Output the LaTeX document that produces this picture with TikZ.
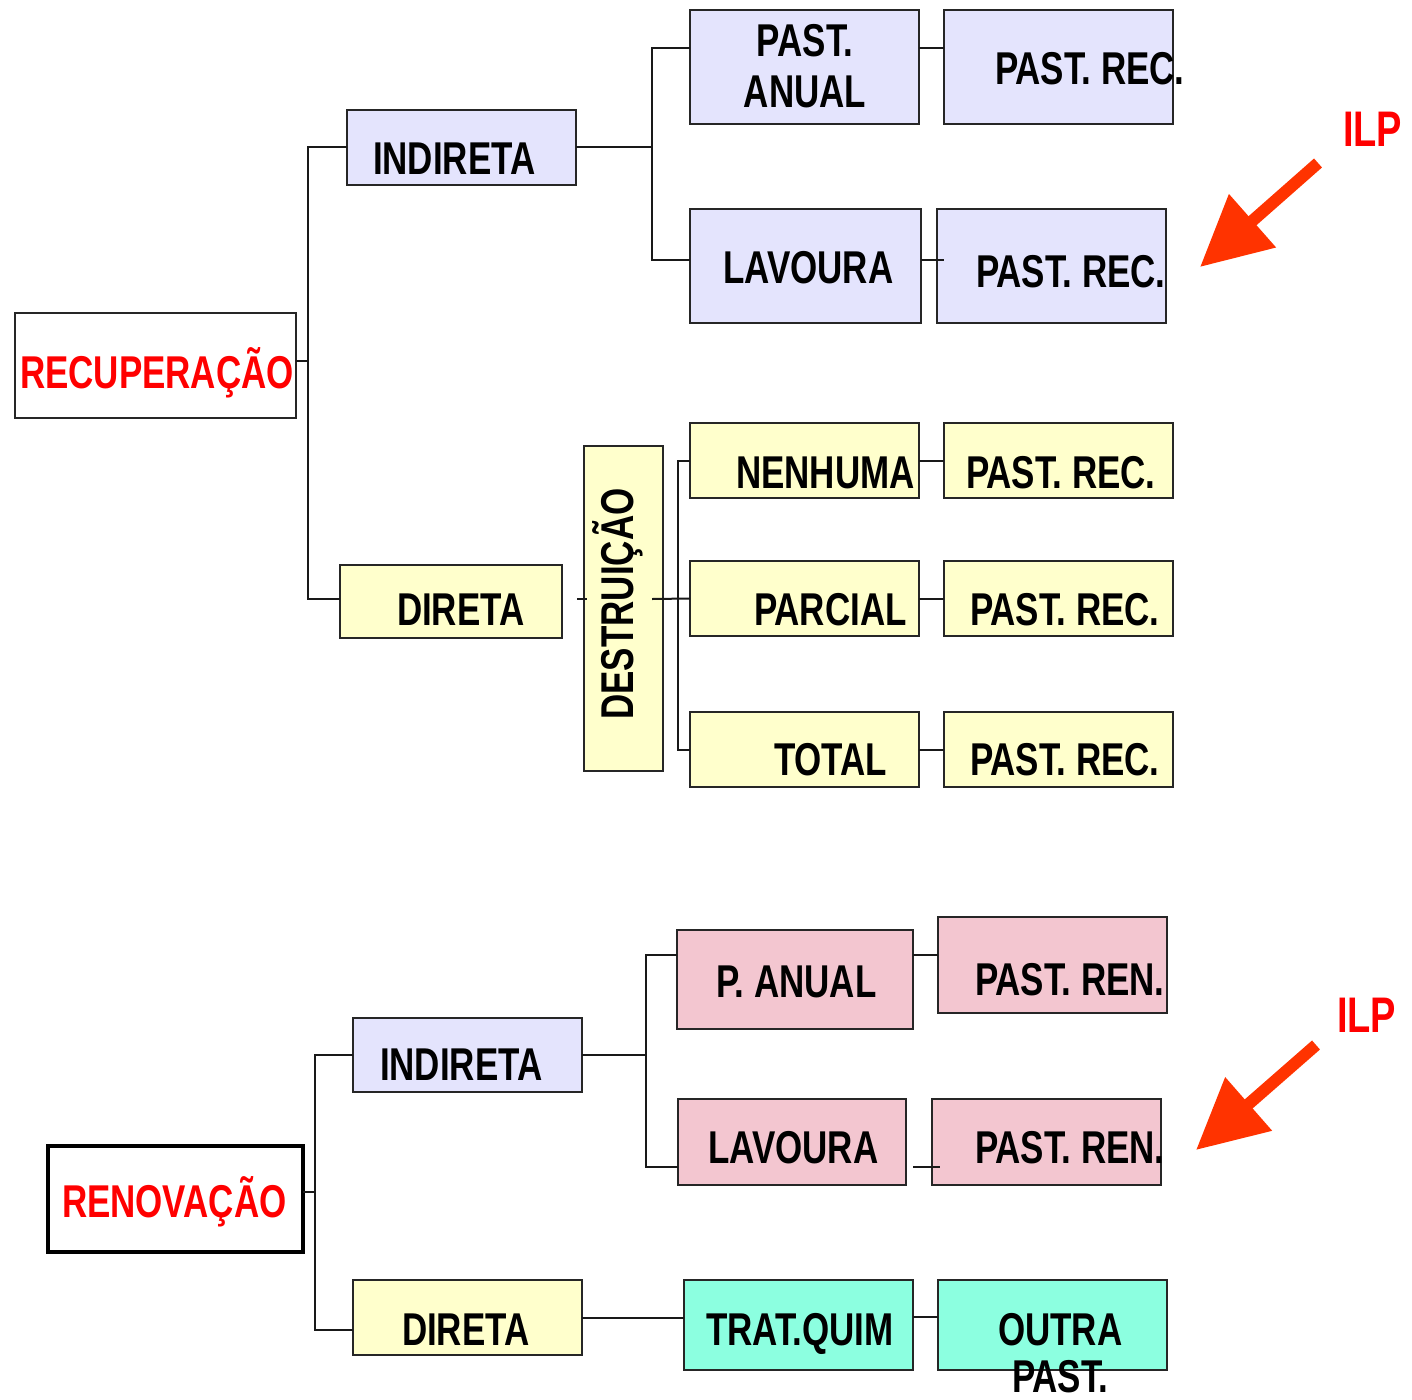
\documentclass[tikz,border=0pt]{standalone}
\usepackage{fontspec}
\setmainfont{Liberation Sans}[FakeStretch=0.76]
\usetikzlibrary{arrows.meta,calc}
\definecolor{lav}{HTML}{E4E4FD}
\definecolor{yel}{HTML}{FFFFCC}
\definecolor{pnk}{HTML}{F3C6D0}
\definecolor{cyn}{HTML}{8CFFE0}
\definecolor{arrowred}{HTML}{FF3300}
\begin{document}
\begin{tikzpicture}[x=1pt,y=-1pt,
  box/.style={draw=black!85, line width=2pt, inner sep=0pt, outer sep=0pt},
  txt/.style={inner sep=0pt, outer sep=0pt, anchor=base west, font=\fontsize{46}{51}\selectfont\bfseries},
  redtxt/.style={txt, text=red},
  conn/.style={line width=2pt, draw=black!90},
  ilparrow/.style={line width=12pt, draw=arrowred, -{Triangle[length=70pt,width=68pt,fill=arrowred]}}]
\useasboundingbox (0,0) rectangle (1412,1399);
% ---------- boxes: RECUPERACAO ----------
\node[box, minimum width=281, minimum height=105] (recup) at (155.5,365.5) {};
\node[box, fill=lav, minimum width=229, minimum height=75] (ind1) at (461.5,147.5) {};
\node[box, fill=yel, minimum width=222, minimum height=73] (dir1) at (451,601.5) {};
\node[box, fill=lav, minimum width=229, minimum height=114] (pa) at (804.5,67) {};
\node[box, fill=lav, minimum width=229, minimum height=114] (pr1) at (1058.5,67) {};
\node[box, fill=lav, minimum width=231, minimum height=114] (lav1) at (805.5,266) {};
\node[box, fill=lav, minimum width=229, minimum height=114] (pr2) at (1051.5,266) {};
\node[box, fill=yel, minimum width=79, minimum height=325] (destr) at (623.5,608.5) {};
\node[box, fill=yel, minimum width=229, minimum height=75] (nen) at (804.5,460.5) {};
\node[box, fill=yel, minimum width=229, minimum height=75] (par) at (804.5,598.5) {};
\node[box, fill=yel, minimum width=229, minimum height=75] (tot) at (804.5,749.5) {};
\node[box, fill=yel, minimum width=229, minimum height=75] (pr3) at (1058.5,460.5) {};
\node[box, fill=yel, minimum width=229, minimum height=75] (pr4) at (1058.5,598.5) {};
\node[box, fill=yel, minimum width=229, minimum height=75] (pr5) at (1058.5,749.5) {};
% ---------- boxes: RENOVACAO ----------
\node[box, line width=4pt, draw=black, minimum width=255, minimum height=106] (renov) at (175.5,1199) {};
\node[box, fill=lav, minimum width=229, minimum height=74] (ind2) at (467.5,1055) {};
\node[box, fill=yel, minimum width=229, minimum height=75] (dir2) at (467.5,1317.5) {};
\node[box, fill=pnk, minimum width=236, minimum height=99] (pan) at (795,979.5) {};
\node[box, fill=pnk, minimum width=229, minimum height=96] (pren1) at (1052.5,965) {};
\node[box, fill=pnk, minimum width=228, minimum height=86] (lav2) at (792,1142) {};
\node[box, fill=pnk, minimum width=229, minimum height=86] (pren2) at (1046.5,1142) {};
\node[box, fill=cyn, minimum width=229, minimum height=90] (trat) at (798.5,1325) {};
\node[box, fill=cyn, minimum width=229, minimum height=90] (outra) at (1052.5,1325) {};
% ---------- connectors: top ----------
\coordinate (j1) at ($(recup.east)+(12,-5)$);
\draw[conn] ([yshift=5pt]recup.east) -- (j1);
\draw[conn] (ind1.west) -| (j1) |- ([yshift=2.5pt]dir1.west);
\coordinate (j2) at ($(ind1.east)+(76,0)$);
\draw[conn] (ind1.east) -- (j2);
\draw[conn] ([yshift=19pt]pa.west) -| (j2) |- ([yshift=6pt]lav1.west);
\draw[conn] ([yshift=19pt]pa.east) -- ([yshift=19pt]pr1.west);
\draw[conn] ([yshift=6pt]lav1.east) -- ([yshift=6pt,xshift=7pt]pr2.west);
\draw[conn] ([xshift=15pt,yshift=2.5pt]dir1.east) -- ([xshift=3pt,yshift=9.5pt]destr.west);
\draw[conn] ([xshift=-11pt,yshift=9.5pt]destr.east) -- (par.west);
\draw[conn] (nen.west) -- ++(-12,0) |- (tot.west);
\draw[conn] (nen.east) -- (pr3.west);
\draw[conn] (par.east) -- (pr4.west);
\draw[conn] (tot.east) -- (pr5.west);
% ---------- connectors: bottom ----------
\coordinate (j3) at ($(renov.east)+(12,-7)$);
\draw[conn] ([yshift=7pt]renov.east) -- (j3);
\draw[conn] (ind2.west) -| (j3) |- ([yshift=-12.5pt]dir2.west);
\coordinate (j4) at ($(ind2.east)+(64,0)$);
\draw[conn] (ind2.east) -- (j4);
\draw[conn] ([yshift=24.5pt]pan.west) -| (j4) |- ([yshift=-25pt]lav2.west);
\draw[conn] ([yshift=24.5pt]pan.east) -- ([yshift=10pt]pren1.west);
\draw[conn] ([xshift=7pt,yshift=-25pt]lav2.east) -- ([xshift=8pt,yshift=-25pt]pren2.west);
\draw[conn] (dir2.east) -- ([yshift=7.5pt]trat.west);
\draw[conn] ([yshift=8pt]trat.east) -- ([yshift=8pt]outra.west);
% ---------- texts ----------
\node[redtxt] (t-recup) at (20,388) {RECUPERAÇÃO};
\node[txt] (t-ind1) at (373,175) {INDIRETA};
\node[txt] (t-dir1) at (397,625) {DIRETA};
\node[txt, anchor=base] (t-pa1) at (805,57) {PAST.};
\node[txt, anchor=base] (t-pa2) at (805,108) {ANUAL};
\node[txt] (t-pr1) at (995,85) {PAST. REC.};
\node[txt] (t-lav1) at (723,283) {LAVOURA};
\node[txt] (t-pr2) at (976,287) {PAST. REC.};
\node[txt, anchor=base, rotate=90] (t-destr) at (633,604) {DESTRUIÇÃO};
\node[txt] (t-nen) at (736,488) {NENHUMA};
\node[txt] (t-par) at (754,625) {PARCIAL};
\node[txt] (t-tot) at (774,775) {TOTAL};
\node[txt] (t-pr3) at (966,488) {PAST. REC.};
\node[txt] (t-pr4) at (970,625) {PAST. REC.};
\node[txt] (t-pr5) at (970,775) {PAST. REC.};
\node[redtxt] (t-renov) at (62,1217) {RENOVAÇÃO};
\node[txt] (t-ind2) at (380,1080) {INDIRETA};
\node[txt] (t-dir2) at (402,1345) {DIRETA};
\node[txt] (t-pan) at (716,997) {P. ANUAL};
\node[txt] (t-pren1) at (975,995) {PAST. REN.};
\node[txt] (t-lav2) at (708,1163) {LAVOURA};
\node[txt] (t-pren2) at (975,1163) {PAST. REN.};
\node[txt] (t-trat) at (706,1345) {TRAT.QUIM};
\node[txt] (t-outra1) at (998,1345) {OUTRA};
\node[txt] (t-outra2) at (1012,1392) {PAST.};
% ---------- ILP arrows ----------
\node[redtxt, font=\fontsize{50}{55}\selectfont\bfseries] (ilp1) at (1343,147) {ILP};
\node[redtxt, font=\fontsize{50}{55}\selectfont\bfseries] (ilp2) at (1337,1032) {ILP};
\coordinate (a1s) at (1318,163);
\coordinate (a1e) at (1200,267);
\draw[ilparrow] (a1s) -- (a1e);
\coordinate (a2s) at (1316,1045);
\coordinate (a2e) at (1196,1150);
\draw[ilparrow] (a2s) -- (a2e);
\end{tikzpicture}
\end{document}
